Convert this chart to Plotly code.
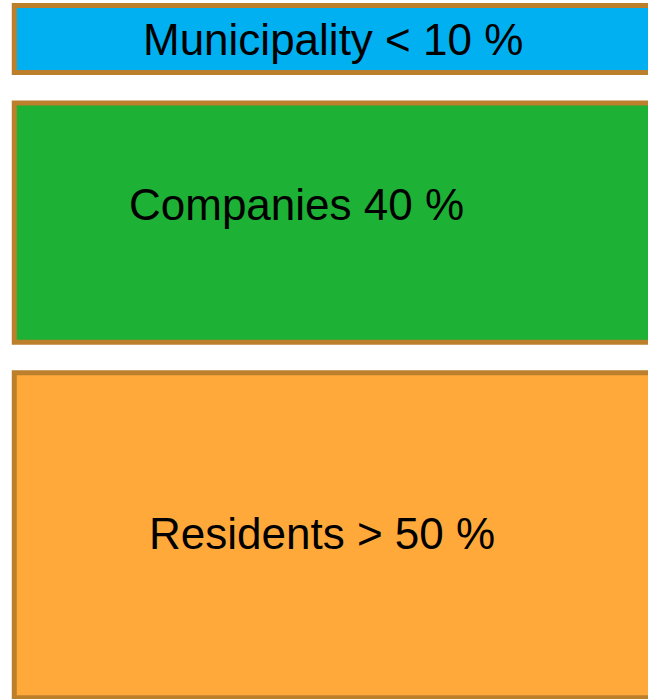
import plotly.graph_objects as go

# Data
segments = ["Municipality", "Companies", "Residents"]
share_labels = ["< 10 %", "40 %", "> 50 %"]
box_heights = [10.3, 36.8, 50.0]   # box heights in share units, as drawn
gap = 4.7                          # spacing between boxes (share units)
fill_colors = ["#00B0F0", "#1DB135", "#FFA93A"]
border_color = "#BC7F2C"

# cumulative bases
bases = []
acc = 0.0
for h in box_heights:
    bases.append(acc)
    acc += h + gap

fig = go.Figure()
for seg, h, b, c in zip(segments, box_heights, bases, fill_colors):
    fig.add_trace(go.Bar(
        x=[0.521], y=[h], base=[b], width=[0.998],
        marker=dict(color=c, line=dict(color=border_color, width=5)),
        name=seg, hoverinfo="skip", showlegend=False,
    ))

label_x = [0.514, 0.4576, 0.497]
label_y = [5.3, 30.6, 81.3]
for seg, lab, lx, ly in zip(segments, share_labels, label_x, label_y):
    fig.add_annotation(
        x=lx, y=ly, text=f"{seg} {lab}", showarrow=False,
        xanchor="center", yanchor="middle",
        font=dict(family="Liberation Sans, Arial, sans-serif", size=44, color="#000000"),
    )

px_per_unit = 6.5
top_px = 5.5
fig.update_layout(
    width=648, height=699,
    margin=dict(l=0, r=0, t=0, b=0),
    paper_bgcolor="white", plot_bgcolor="white",
    barmode="overlay",
    xaxis=dict(range=[0, 1], visible=False, fixedrange=True),
    yaxis=dict(range=[(699 - top_px) / px_per_unit, -top_px / px_per_unit],
               visible=False, fixedrange=True),
)

fig.write_html(
    "out.html",
    config={"displayModeBar": False},
    post_script="document.body.style.margin='0';document.body.style.overflow='hidden';",
)
